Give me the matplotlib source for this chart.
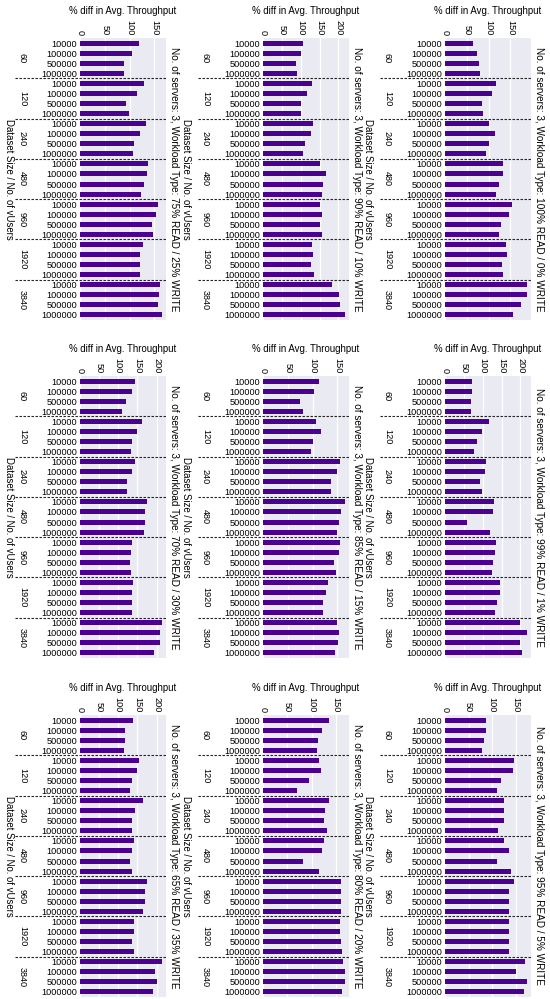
import matplotlib
matplotlib.use('Agg')
import matplotlib.pyplot as plt
import matplotlib.transforms as mtransforms
from matplotlib.ticker import MultipleLocator
import numpy as np

plt.rcParams['font.family'] = ['Liberation Sans', 'DejaVu Sans']

vusers = ['60', '120', '240', '480', '960', '1920', '3840']
dataset_sizes = ['10000', '100000', '500000', '1000000']

# values: for each vUsers group, 4 dataset sizes
r100_w0 = [64, 74, 77, 81, 117, 107, 84, 87, 102, 115, 101, 93, 132, 132, 124, 118,
           153, 146, 129, 124, 139, 142, 131, 133, 188, 188, 174, 155]
r99_w1 = [71, 72, 69, 68, 117, 99, 84, 78, 109, 106, 93, 99, 130, 127, 59, 118,
          135, 133, 128, 124, 147, 146, 139, 132, 198, 217, 198, 203]
r95_w5 = [88, 88, 82, 78, 147, 145, 119, 110, 125, 125, 125, 112, 125, 136, 110, 140,
          147, 136, 136, 136, 136, 136, 136, 136, 169, 150, 174, 167]
r90_w10 = [107, 100, 88, 89, 130, 116, 100, 100, 132, 126, 110, 107, 152, 168, 160, 156,
           150, 155, 151, 157, 131, 132, 128, 134, 183, 201, 204, 217]
r85_w15 = [112, 103, 74, 80, 107, 116, 101, 97, 156, 150, 137, 136, 165, 158, 153, 149,
           155, 153, 144, 148, 130, 127, 121, 120, 149, 154, 152, 146]
r80_w20 = [135, 122, 112, 110, 115, 118, 95, 70, 135, 128, 125, 132, 125, 120, 82, 115,
           160, 160, 160, 160, 158, 158, 160, 162, 165, 168, 168, 162]
r75_w25 = [119, 104, 89, 88, 129, 114, 93, 98, 132, 121, 109, 106, 136, 135, 129, 122,
           158, 153, 145, 147, 126, 120, 121, 120, 162, 159, 158, 165]
r70_w30 = [144, 137, 119, 110, 161, 150, 135, 133, 143, 135, 124, 122, 174, 170, 170, 166,
           137, 134, 130, 133, 139, 136, 137, 135, 214, 208, 208, 193]
r65_w35 = [139, 117, 117, 115, 155, 150, 135, 130, 165, 145, 135, 135, 140, 135, 130, 135,
           175, 170, 170, 165, 140, 140, 135, 140, 214, 195, 200, 190]

titles = [
    ['75% READ / 25% WRITE', '90% READ / 10% WRITE', '100% READ / 0% WRITE'],
    ['70% READ / 30% WRITE', '85% READ / 15% WRITE', '99% READ / 1% WRITE'],
    ['65% READ / 35% WRITE', '80% READ / 20% WRITE', '95% READ / 5% WRITE'],
]
grid_values = [
    [r75_w25, r90_w10, r100_w0],
    [r70_w30, r85_w15, r99_w1],
    [r65_w35, r80_w20, r95_w5],
]

BAR = '#4b0090'
BG = '#eaeaf2'
FS = 6.6

W, H = 550, 999
fig = plt.figure(figsize=(W / 100, H / 100), dpi=100)
col_left = [80, 263, 445]
ax_w = 86
row_top = [38, 376, 715]
ax_h = 282

labels = dataset_sizes * len(vusers)
ypos = np.arange(len(labels))

for r in range(3):
    for c in range(3):
        ax = fig.add_axes([col_left[c] / W, 1 - (row_top[r] + ax_h) / H, ax_w / W, ax_h / H])
        ax.set_facecolor(BG)
        vals = grid_values[r][c]
        ax.barh(ypos, vals, height=0.5, color=BAR, zorder=2)
        ax.set_ylim(len(labels) - 0.5, -0.5)
        ax.set_yticks(ypos)
        ax.set_yticklabels(labels, fontsize=FS)
        ax.xaxis.set_major_locator(MultipleLocator(50))
        ax.xaxis.tick_top()
        ax.xaxis.set_label_position('top')
        ax.set_xlabel('% diff in Avg. Throughput', fontsize=FS + 0.3, labelpad=4)
        ax.tick_params(axis='x', labelrotation=270, labelsize=FS, length=0, pad=2)
        ax.tick_params(axis='y', length=0, pad=2)
        for s in ax.spines.values():
            s.set_visible(False)
        ax.grid(axis='x', color='white', lw=0.9, zorder=1)
        ax.set_axisbelow(True)
        tr = mtransforms.blended_transform_factory(ax.transAxes, ax.transData)
        for k in range(1, len(vusers)):
            yb = 4 * k - 0.5
            ax.plot([-0.76, 1.0], [yb, yb], transform=tr, ls=(0, (2.2, 1.4)),
                    color='#222222', lw=0.8, clip_on=False, zorder=3)
        for k, v in enumerate(vusers):
            ax.text(-0.67, 4 * k + 1.5, v, transform=tr, rotation=270,
                    ha='center', va='center', fontsize=FS)
        ylx = -0.83 if c == 0 else -0.9
        ax.text(ylx, 0.5, 'Dataset Size / No. of vUsers', transform=ax.transAxes,
                rotation=270, ha='center', va='center', fontsize=FS + 0.3)
        ax.text(1.09, 0.5, 'No. of servers: 3, Workload Type: ' + titles[r][c],
                transform=ax.transAxes, rotation=270, ha='center', va='center',
                fontsize=FS + 0.6)

fig.savefig('out.png', dpi=100, facecolor='white')
